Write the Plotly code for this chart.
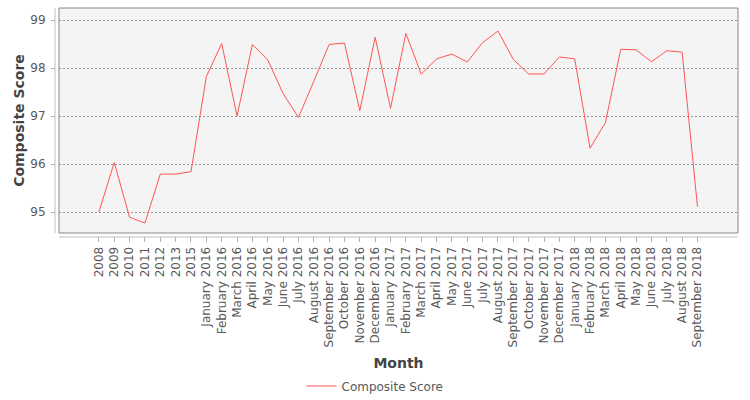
import plotly.graph_objects as go

months = ["2008", "2009", "2010", "2011", "2012", "2013", "2015",
          "January 2016", "February 2016", "March 2016", "April 2016", "May 2016", "June 2016",
          "July 2016", "August 2016", "September 2016", "October 2016", "November 2016", "December 2016",
          "January 2017", "February 2017", "March 2017", "April 2017", "May 2017", "June 2017",
          "July 2017", "August 2017", "September 2017", "October 2017", "November 2017", "December 2017",
          "January 2018", "February 2018", "March 2018", "April 2018", "May 2018", "June 2018",
          "July 2018", "August 2018", "September 2018"]

scores = [95.0, 96.03, 94.89, 94.77, 95.79, 95.79, 95.84,
          97.82, 98.51, 97.0, 98.49, 98.17, 97.47,
          96.97, 97.72, 98.49, 98.52, 97.11, 98.64,
          97.16, 98.72, 97.87, 98.19, 98.29, 98.125,
          98.53, 98.77, 98.18, 97.875, 97.875, 98.23,
          98.19, 96.33, 96.86, 98.39, 98.38, 98.13,
          98.36, 98.33, 95.11]

y_ticks = [95, 96, 97, 98, 99]

FONT = "DejaVu Sans"
TXT = "#595959"
TITLE = "#444444"

PW, PH = 679, 225  # plot area size in px

fig = go.Figure()
fig.add_trace(go.Scatter(
    x=list(range(len(months))), y=scores, mode="lines",
    name="Composite Score",
    line=dict(color="#ff5555", width=1),
))

fig.update_layout(
    width=750, height=400,
    margin=dict(l=59, r=12, t=8, b=167, autoexpand=False),
    paper_bgcolor="white",
    plot_bgcolor="#f4f4f4",
    font=dict(family=FONT, size=12, color=TXT),
    showlegend=True,
    legend=dict(orientation="h", xref="container", yref="container",
                x=0.5, xanchor="center", y=0.035, yanchor="middle",
                font=dict(size=12, color=TXT), itemwidth=30),
    xaxis=dict(
        range=[-2.6, 41.64],
        tickmode="array",
        tickvals=list(range(len(months))),
        ticktext=months,
        tickangle=-90,
        ticks="outside", ticklen=8, tickcolor="#b0b0b0", tickwidth=1,
        showgrid=False, zeroline=False, showline=False,
        tickfont=dict(size=12, color=TXT),
        title=dict(text="<b>Month</b>", font=dict(size=14, color=TITLE), standoff=14),
    ),
    yaxis=dict(
        range=[94.5625, 99.25],
        tickvals=y_ticks,
        ticks="outside", ticklen=7, tickcolor="#b0b0b0", tickwidth=1,
        showgrid=True, gridcolor="#999999", griddash="2px,2px", gridwidth=1,
        zeroline=False, showline=False,
        tickfont=dict(size=12, color=TXT),
        ticklabelstandoff=3,
        title=dict(text="<b>Composite Score</b>", font=dict(size=14, color=TITLE), standoff=2),
    ),
    shapes=[
        # mask gaps between plot edge and offset axis lines
        dict(type="rect", xref="paper", yref="paper", x0=-4 / PW, x1=-0.5 / PW, y0=0, y1=1,
             fillcolor="white", line=dict(width=0), layer="above"),
        dict(type="rect", xref="paper", yref="paper", x0=0, x1=1, y0=-4 / PH, y1=-0.5 / PH,
             fillcolor="white", line=dict(width=0), layer="above"),
        # offset axis lines
        dict(type="line", xref="paper", yref="paper", x0=-4 / PW, x1=-4 / PW, y0=0, y1=1,
             line=dict(color="#c0c0c0", width=1), layer="above"),
        dict(type="line", xref="paper", yref="paper", x0=0, x1=1, y0=-4 / PH, y1=-4 / PH,
             line=dict(color="#c0c0c0", width=1), layer="above"),
        # plot border
        dict(type="rect", xref="paper", yref="paper", x0=0, x1=1, y0=0, y1=1,
             line=dict(color="#888888", width=1), layer="above"),
    ],
)

fig.write_html("out.html")
